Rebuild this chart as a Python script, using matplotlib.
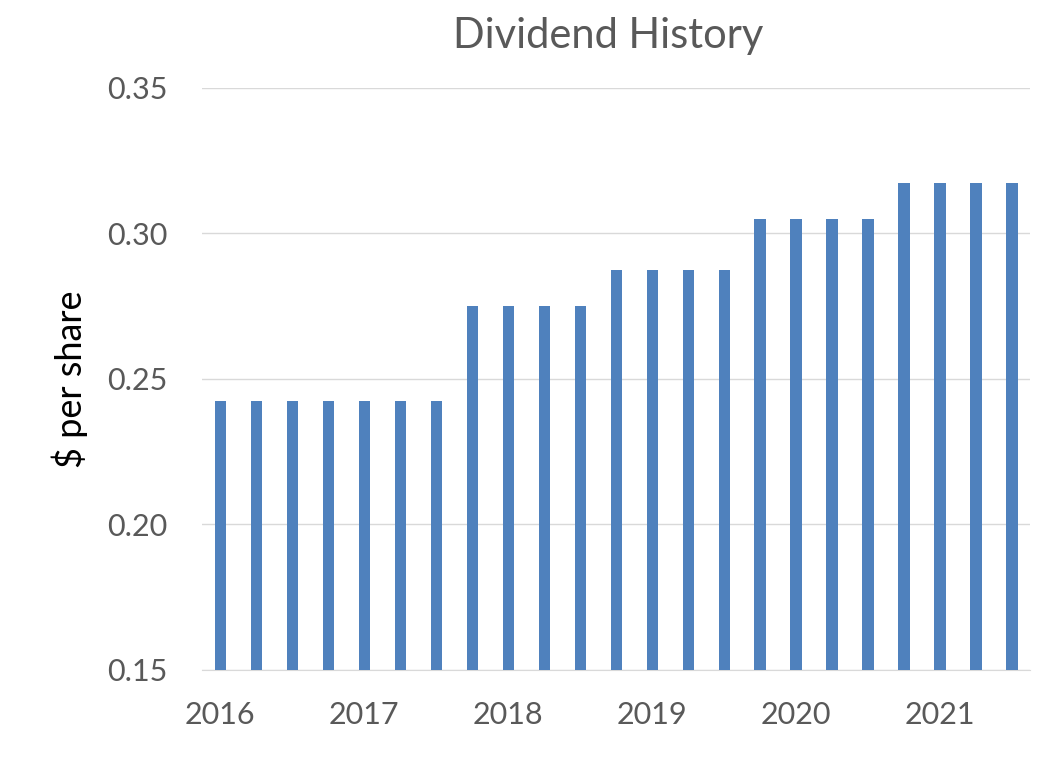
import matplotlib
matplotlib.use("Agg")
import matplotlib.pyplot as plt
import numpy as np

# Dividendos trimestrales ($ por acción), 2016 T1 .. 2021 T3
dividendos = [0.2425] * 7 + [0.275] * 4 + [0.2875] * 4 + [0.305] * 4 + [0.3175] * 4
anios = ["2016", "2017", "2018", "2019", "2020", "2021"]
yticks = [0.15, 0.20, 0.25, 0.30, 0.35]

plt.rcParams["font.family"] = ["Lato", "DejaVu Sans"]

fig = plt.figure(figsize=(10.59, 7.59), dpi=100)
ax = fig.add_axes([0.191, 0.1173, 0.7816, 0.7668])

x = np.arange(len(dividendos))
ax.bar(x, dividendos, width=0.31, color="#4f81bd", zorder=3)

ax.set_xlim(-0.5, len(dividendos) - 0.5)
ax.set_ylim(0.15, 0.35)
ax.set_yticks(yticks)
ax.set_yticklabels([f"{v:.2f}" for v in yticks])
ax.set_xticks(x[::4])
ax.set_xticklabels(anios)

ax.grid(axis="y", color="#d9d9d9", linewidth=1, zorder=0)
for lado in ["top", "right", "left"]:
    ax.spines[lado].set_visible(False)
ax.spines["bottom"].set_color("#d9d9d9")
ax.tick_params(axis="both", length=0, labelsize=22, colors="#595959")
ax.tick_params(axis="y", pad=25)
ax.tick_params(axis="x", pad=22)

ax.set_ylabel("$ per share", fontsize=26, color="black", labelpad=14)
ax.set_title("Dividend History", fontsize=30, color="#595959", pad=29, x=0.49)

plt.savefig("out.png", dpi=100)
plt.close()
